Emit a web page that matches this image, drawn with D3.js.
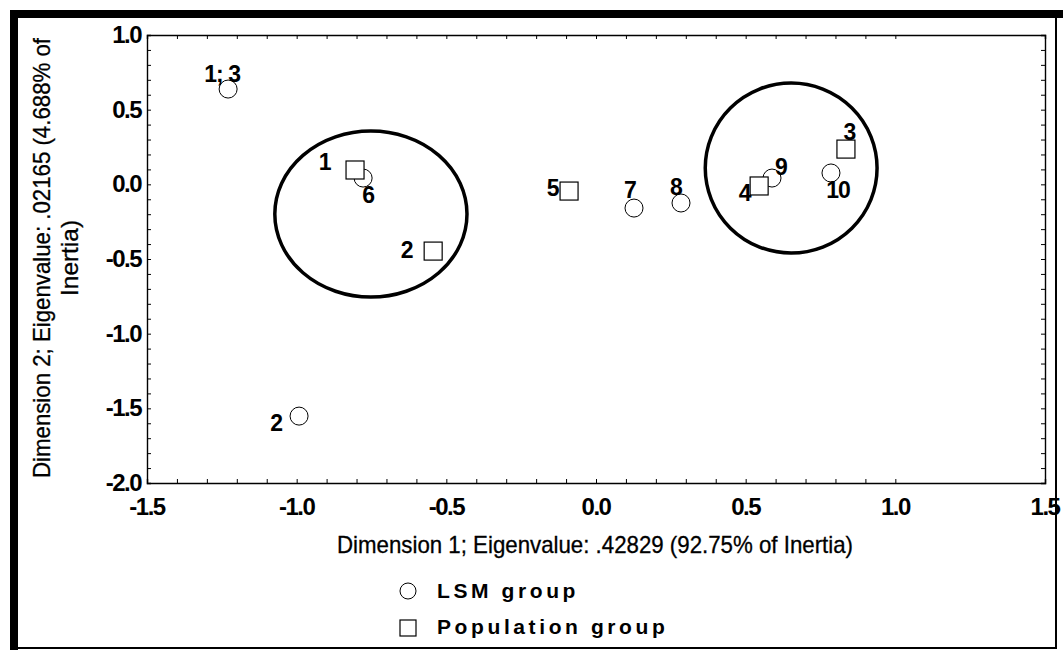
<!DOCTYPE html>
<html>
<head>
<meta charset="utf-8">
<script src="https://cdn.jsdelivr.net/npm/d3@7"></script>
<style>
  body { margin: 0; background: #fff; }
  svg { display: block; font-family: "Liberation Sans", Arial, sans-serif; }
</style>
</head>
<body>
<svg class="ca-plot" width="1063" height="650"></svg>
<script>
// correspondence analysis coordinates
const lsmLabels = ['1; 3', '6', '2', '7', '8', '9', '10'];
const lsmDim1 = [-1.229, -0.778, -0.992, 0.127, 0.284, 0.588, 0.785];
const lsmDim2 = [0.638, 0.042, -1.552, -0.159, -0.125, 0.042, 0.076];

const popLabels = ['1', '2', '5', '4', '3'];
const popDim1 = [-0.805, -0.544, -0.090, 0.545, 0.835];
const popDim2 = [0.096, -0.447, -0.045, -0.011, 0.236];

// the two hand drawn groupings (centre and radii in data units)
const ringCx = [-0.752, 0.652];
const ringCy = [-0.199, 0.109];
const ringRx = [0.321, 0.287];
const ringRy = [0.556, 0.569];

const majorTicks = [-1.5, -1.0, -0.5, 0.0, 0.5, 1.0, 1.5];
const majorTicksY = [1.0, 0.5, 0.0, -0.5, -1.0, -1.5, -2.0];

const xTitle = 'Dimension 1; Eigenvalue: .42829 (92.75% of Inertia)';
const yTitle1 = 'Dimension 2; Eigenvalue: .02165 (4.688% of';
const yTitle2 = 'Inertia)';
const legendNames = ['LSM group', 'Population group'];

// where each point label sits relative to its marker (px)
const lsmLabelOffset = [[-6, -7], [5, 25], [-23, 15], [-4, -10], [-5, -8], [9, -3], [7, 25]];
const popLabelOffset = [[-30, 0], [-26, 7], [-16, 5], [-14, 15], [4, -9]];

const svg = d3.select('svg.ca-plot');
const plotL = 147, plotR = 1045, plotT = 35, plotB = 483;

const x = d3.scaleLinear().domain([-1.5, 1.5]).range([plotL, plotR]);
const y = d3.scaleLinear().domain([-2.0, 1.0]).range([plotB, plotT]);

const minor = d3.range(-20, 11).map(function(d) { return d / 10; });
const minorX = minor.filter(function(d) { return d >= -1.5; });

// box with small inward ticks on every side
svg.append('g')
  .attr('transform', 'translate(0,' + plotB + ')')
  .call(d3.axisBottom(x).tickValues(minorX).tickSize(-4).tickFormat(''));
svg.append('g')
  .attr('transform', 'translate(0,' + plotT + ')')
  .call(d3.axisTop(x).tickValues(minorX).tickSize(-4).tickFormat(''));
svg.append('g')
  .attr('transform', 'translate(' + plotL + ',0)')
  .call(d3.axisLeft(y).tickValues(minor).tickSize(-4).tickFormat(''));
svg.append('g')
  .attr('transform', 'translate(' + plotR + ',0)')
  .call(d3.axisRight(y).tickValues(minor).tickSize(-4).tickFormat(''));

svg.selectAll('.domain').attr('stroke', '#000').attr('stroke-width', 1.4);
svg.selectAll('.tick line').attr('stroke', '#000').attr('stroke-width', 1);

// tick labels
svg.append('g')
  .selectAll('text')
  .data(majorTicks)
  .enter()
  .append('text')
  .attr('x', function(d) { return x(d); })
  .attr('y', 515)
  .attr('text-anchor', 'middle')
  .attr('font-size', 24)
  .attr('font-weight', 'bold')
  .attr('letter-spacing', -1.5)
  .text(function(d) { return d.toFixed(1); });

svg.append('g')
  .selectAll('text')
  .data(majorTicksY)
  .enter()
  .append('text')
  .attr('x', 141)
  .attr('y', function(d) { return y(d) + 8; })
  .attr('text-anchor', 'end')
  .attr('font-size', 24)
  .attr('font-weight', 'bold')
  .attr('letter-spacing', -1.5)
  .text(function(d) { return d.toFixed(1); });

// axis titles
svg.append('text')
  .attr('x', 337)
  .attr('y', 553)
  .attr('font-size', 24)
  .attr('stroke', '#000')
  .attr('stroke-width', 0.3)
  .attr('textLength', 516)
  .attr('lengthAdjust', 'spacingAndGlyphs')
  .text(xTitle);

svg.append('text')
  .attr('transform', 'translate(50,478) rotate(-90)')
  .attr('font-size', 24)
  .attr('stroke', '#000')
  .attr('stroke-width', 0.3)
  .attr('textLength', 440)
  .attr('lengthAdjust', 'spacingAndGlyphs')
  .text(yTitle1);

svg.append('text')
  .attr('transform', 'translate(78,258) rotate(-90)')
  .attr('text-anchor', 'middle')
  .attr('font-size', 24)
  .attr('stroke', '#000')
  .attr('stroke-width', 0.3)
  .attr('textLength', 76)
  .attr('lengthAdjust', 'spacingAndGlyphs')
  .text(yTitle2);

// group rings
svg.append('g')
  .selectAll('ellipse')
  .data(ringCx)
  .enter()
  .append('ellipse')
  .attr('cx', function(d) { return x(d); })
  .attr('cy', function(d, i) { return y(ringCy[i]); })
  .attr('rx', function(d, i) { return x(ringRx[i]) - x(0); })
  .attr('ry', function(d, i) { return y(0) - y(ringRy[i]); })
  .attr('fill', 'none')
  .attr('stroke', '#000')
  .attr('stroke-width', 3.5);

// LSM points (circles), drawn first so squares cover them
const lsm = svg.append('g')
  .selectAll('g')
  .data(lsmDim1)
  .enter()
  .append('g')
  .attr('transform', function(d, i) { return 'translate(' + x(d) + ',' + y(lsmDim2[i]) + ')'; });

lsm.append('circle')
  .attr('r', 9)
  .attr('fill', '#fff')
  .attr('stroke', '#000')
  .attr('stroke-width', 1);

const pop = svg.append('g')
  .selectAll('g')
  .data(popDim1)
  .enter()
  .append('g')
  .attr('transform', function(d, i) { return 'translate(' + x(d) + ',' + y(popDim2[i]) + ')'; });

pop.append('rect')
  .attr('x', -9)
  .attr('y', -9)
  .attr('width', 18)
  .attr('height', 18)
  .attr('fill', '#fff')
  .attr('stroke', '#000')
  .attr('stroke-width', 1.2);

lsm.append('text')
  .attr('x', function(d, i) { return lsmLabelOffset[i][0]; })
  .attr('y', function(d, i) { return lsmLabelOffset[i][1]; })
  .attr('text-anchor', 'middle')
  .attr('font-size', 23)
  .attr('font-weight', 'bold')
  .attr('letter-spacing', -1)
  .text(function(d, i) { return lsmLabels[i]; });

pop.append('text')
  .attr('x', function(d, i) { return popLabelOffset[i][0]; })
  .attr('y', function(d, i) { return popLabelOffset[i][1]; })
  .attr('text-anchor', 'middle')
  .attr('font-size', 23)
  .attr('font-weight', 'bold')
  .text(function(d, i) { return popLabels[i]; });

// legend
const legend = svg.append('g');
legend.append('circle')
  .attr('cx', 408).attr('cy', 591).attr('r', 8)
  .attr('fill', '#fff').attr('stroke', '#000').attr('stroke-width', 1);
legend.append('rect')
  .attr('x', 400).attr('y', 620).attr('width', 16).attr('height', 16)
  .attr('fill', '#fff').attr('stroke', '#000').attr('stroke-width', 1.2);
legend.selectAll('text')
  .data(legendNames)
  .enter()
  .append('text')
  .attr('x', 437)
  .attr('y', function(d, i) { return 598 + i * 36; })
  .attr('font-size', 21)
  .attr('font-weight', 'bold')
  .attr('letter-spacing', 3.6)
  .text(function(d) { return d; });

// scanned frame round the figure
svg.append('rect').attr('x', 10).attr('y', 10).attr('width', 8).attr('height', 640).attr('fill', '#000');
svg.append('rect').attr('x', 10).attr('y', 10).attr('width', 1053).attr('height', 8).attr('fill', '#000');
svg.append('rect').attr('x', 1055).attr('y', 18).attr('width', 2).attr('height', 631).attr('fill', '#000');
svg.append('rect').attr('x', 10).attr('y', 647).attr('width', 1047).attr('height', 2).attr('fill', '#000');
</script>
</body>
</html>
